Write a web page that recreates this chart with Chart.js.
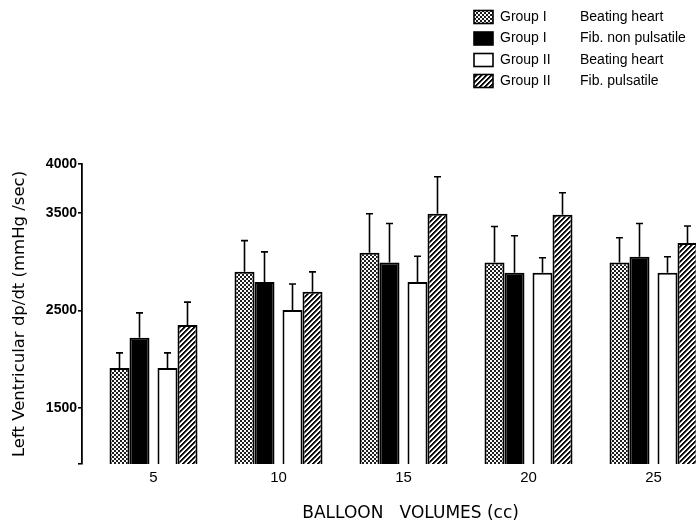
<!DOCTYPE html>
<html><head><meta charset="utf-8">
<script src="https://cdn.jsdelivr.net/npm/chart.js@4"></script>
<style>html,body{margin:0;padding:0;background:#fff;overflow:hidden}</style>
</head><body>
<canvas id="c" width="696" height="524"></canvas>
<script>
// ---- data ----
const categories = [5, 10, 15, 20, 25];
const seriesGroups = ['Group I', 'Group I', 'Group II', 'Group II'];
const seriesConditions = ['Beating heart', 'Fib. non pulsatile', 'Beating heart', 'Fib. pulsatile'];
const g1Beating     = [1910, 2895, 3090, 2990, 2990];
const g1FibNonPuls  = [2220, 2790, 2990, 2885, 3050];
const g2Beating     = [1910, 2505, 2790, 2885, 2885];
const g2FibPuls     = [2350, 2690, 3490, 3480, 3190];
const g1BeatingErr    = [155, 320, 400, 370, 255];
const g1FibNonPulsErr = [255, 310, 400, 380, 340];
const g2BeatingErr    = [155, 265, 265, 155, 165];
const g2FibPulsErr    = [235, 205, 380, 225, 175];
const yTickLabels = [1500, 2500, 3500, 4000];
const yMin = 926, yMax = 4000;

// ---- patterns ----
function makeTile(w, h, fn) {
  const c = document.createElement('canvas'); c.width = w; c.height = h;
  const x = c.getContext('2d'); const img = x.createImageData(w, h);
  for (let j = 0; j < h; j++) for (let i = 0; i < w; i++) {
    const v = fn(i, j); const p = (j * w + i) * 4;
    img.data[p] = img.data[p+1] = img.data[p+2] = v; img.data[p+3] = 255;
  }
  x.putImageData(img, 0, 0);
  return document.getElementById('c').getContext('2d').createPattern(c, 'repeat');
}
const dotPattern = makeTile(4, 4, (i, j) => (((i >> 1) + (j >> 1)) % 2 === 0 ? 30 : 250));
const hatchPattern = makeTile(5, 5, (i, j) => { const m = (i + j) % 5; return m < 2 ? 10 : (m === 2 ? 120 : 255); });
const fills = [dotPattern, '#000', '#fff', hatchPattern];

// ---- bar slot layout inside each category (fractions of category spacing) ----
const barCenters = [-0.272, -0.112, 0.112, 0.272];
const barWidthFrac = 0.16;
function slot(i) {
  const k = (2 * i - 3) / 8;
  const cat = barCenters[i] / k;
  return { categoryPercentage: cat, barPercentage: 4 * barWidthFrac / cat };
}

const values = [g1Beating, g1FibNonPuls, g2Beating, g2FibPuls];
const errors = [g1BeatingErr, g1FibNonPulsErr, g2BeatingErr, g2FibPulsErr];

const datasets = values.map((v, i) => Object.assign({
  label: seriesGroups[i] + ' ' + seriesConditions[i],
  data: v,
  backgroundColor: fills[i],
  borderColor: '#000',
  borderWidth: 2,
  borderSkipped: false,
  errors: errors[i]
}, slot(i)));

const errorBars = {
  id: 'errorBars',
  afterDatasetsDraw(chart) {
    const ctx = chart.ctx, ys = chart.scales.y, a = chart.chartArea;
    ctx.save();
    ctx.beginPath(); ctx.rect(a.left, 0, a.right - a.left, chart.height); ctx.clip();
    ctx.strokeStyle = '#000'; ctx.lineWidth = 1.6;
    chart.data.datasets.forEach((ds, di) => {
      chart.getDatasetMeta(di).data.forEach((bar, i) => {
        const top = ys.getPixelForValue(ds.data[i] + ds.errors[i]);
        ctx.beginPath();
        ctx.moveTo(bar.x, bar.y); ctx.lineTo(bar.x, top);
        ctx.moveTo(bar.x - 3.5, top); ctx.lineTo(bar.x + 3.5, top);
        ctx.stroke();
      });
    });
    ctx.restore();
  }
};

const legendBox = {
  id: 'legendBox',
  afterDraw(chart) {
    const ctx = chart.ctx;
    const rows = [17, 38.5, 60, 81];
    ctx.save();
    ctx.font = '14px "Liberation Sans"';
    ctx.textBaseline = 'middle';
    ctx.fillStyle = '#000';
    chart.data.datasets.forEach((ds, i) => {
      const y = rows[i];
      ctx.fillStyle = ds.backgroundColor;
      ctx.fillRect(474, y - 6.5, 19, 13);
      ctx.strokeStyle = '#000'; ctx.lineWidth = 1.6;
      ctx.strokeRect(474, y - 6.5, 19, 13);
      ctx.fillStyle = '#000';
      ctx.fillText(seriesGroups[i], 500, y);
      ctx.fillText(seriesConditions[i], 580, y);
    });
    ctx.restore();
  }
};

new Chart(document.getElementById('c'), {
  type: 'bar',
  data: { labels: categories, datasets },
  plugins: [errorBars, legendBox],
  options: {
    responsive: false,
    devicePixelRatio: 1,
    animation: false,
    layout: { padding: { top: 164, left: 0, right: 0, bottom: 0 } },
    plugins: { legend: { display: false }, tooltip: { enabled: false } },
    scales: {
      x: {
        type: 'linear',
        offset: false,
        min: 2.14, max: 26.7,
        afterBuildTicks: s => { s.ticks = categories.map(v => ({ value: v })); },
        afterFit: s => { s.height = 60; },
        grid: { display: false, drawTicks: false },
        border: { display: false },
        ticks: { color: '#000', padding: 5, autoSkip: false, maxRotation: 0,
          font: { family: '"Liberation Sans"', size: 15 } },
        title: { display: true, text: '        BALLOON   VOLUMES (cc)', color: '#000',
          font: { family: '"DejaVu Sans"', size: 17 }, padding: { top: 4, bottom: 0 } }
      },
      y: {
        min: yMin, max: yMax,
        afterBuildTicks: s => { s.ticks = [yMin].concat(yTickLabels).map(v => ({ value: v })); },
        afterFit: s => { s.width = 82; },
        grid: { drawOnChartArea: false, drawTicks: true, tickLength: 4, color: '#000', lineWidth: 1.6 },
        border: { display: true, color: '#000', width: 1.8 },
        ticks: { color: '#000', padding: 1, autoSkip: false,
          callback: v => yTickLabels.includes(v) ? String(v) : '',
          font: { family: '"Liberation Sans"', size: 14, weight: 'bold' } },
        title: { display: true, text: 'Left Ventricular dp/dt (mmHg /sec)', color: '#000',
          font: { family: '"DejaVu Sans"', size: 16.5 }, padding: { top: 10, bottom: 0 } }
      }
    }
  }
});
</script>
</body></html>
